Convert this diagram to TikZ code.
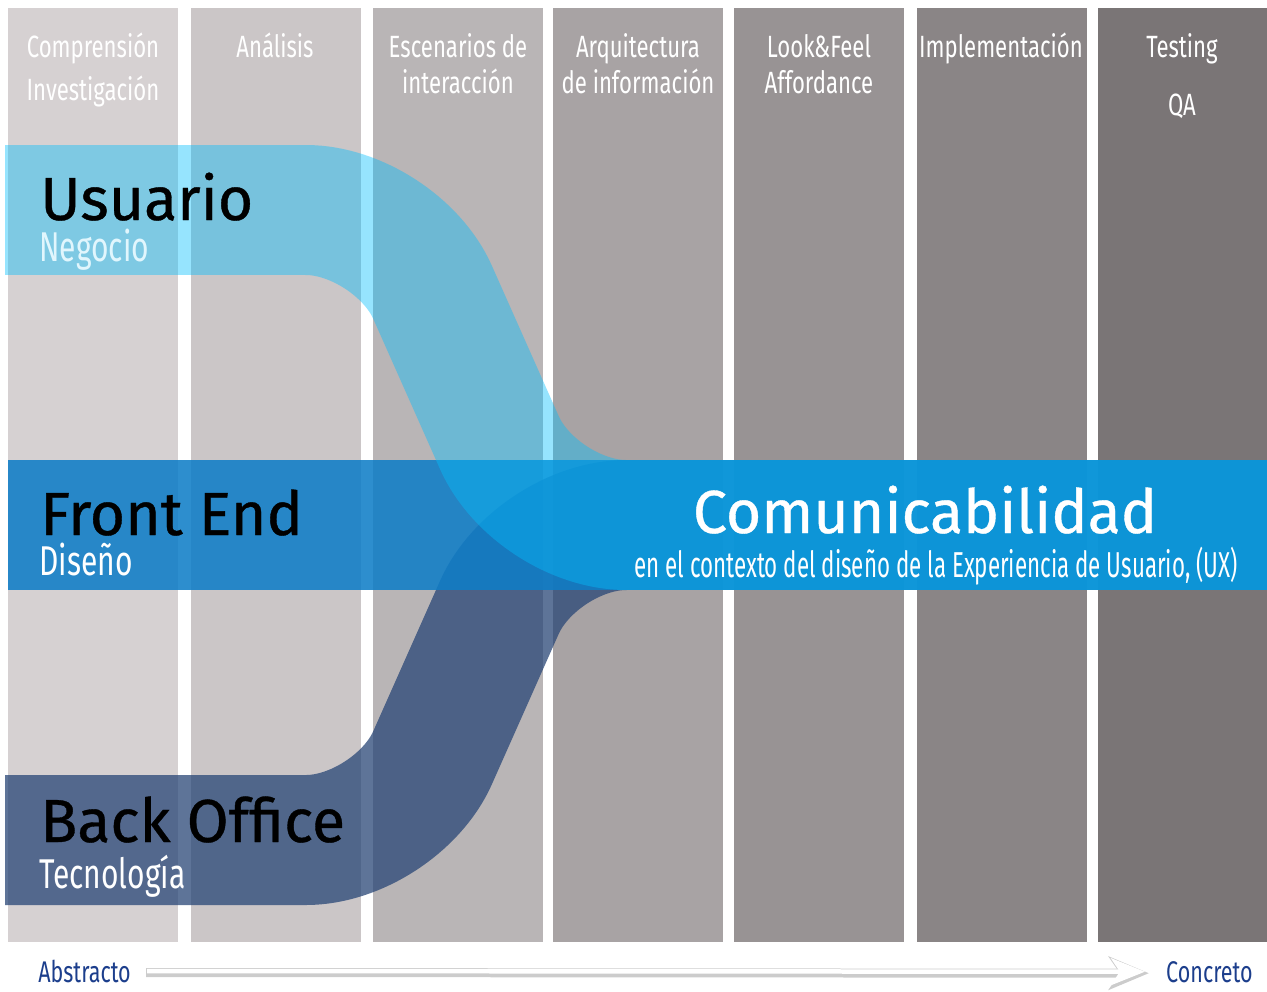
\documentclass[tikz,border=0pt]{standalone}
\usepackage{fontspec}
\setmainfont{Fira Sans}
\newfontfamily\condfont[FakeStretch=0.72]{Fira Sans}
\newfontfamily\narrowfont[FakeStretch=0.62]{Fira Sans}
\newfontfamily\titlefont[FakeBold=0.6]{Fira Sans}
\usetikzlibrary{arrows.meta}

\definecolor{colA}{RGB}{214,209,210}
\definecolor{colB}{RGB}{203,198,199}
\definecolor{colC}{RGB}{185,181,182}
\definecolor{colD}{RGB}{168,163,164}
\definecolor{colE}{RGB}{152,147,148}
\definecolor{colF}{RGB}{138,133,134}
\definecolor{colG}{RGB}{122,117,118}
\definecolor{usuariocol}{RGB}{5,190,252}
\definecolor{frontcol}{RGB}{14,125,199}
\definecolor{backcol}{RGB}{40,70,118}
\definecolor{ejecol}{RGB}{28,62,140}
\definecolor{negociocol}{RGB}{225,246,253}

\tikzset{
  fase/.style={anchor=base, inner sep=0pt, text=white, font=\condfont\fontsize{17.5}{20}\selectfont},
  titulo/.style={anchor=base west, inner sep=0pt, font=\titlefont\fontsize{34.6}{40}\selectfont},
  subtitulo/.style={anchor=base west, inner sep=0pt, text=white, font=\condfont\fontsize{23.7}{26}\selectfont},
  banda/.style={line width=2.6cm, rounded corners=1.8cm},
  eje/.style={anchor=base, inner sep=0pt, text=ejecol, font=\condfont\fontsize{17}{20}\selectfont},
}

\begin{document}
\begin{tikzpicture}[x=0.02cm, y=-0.02cm]
\useasboundingbox (0,0) rectangle (1267,991);

\foreach \x/\c in {8/colA, 191/colB, 373/colC, 553/colD, 734/colE, 917/colF, 1098/colG}
  \fill[\c] (\x,8) rectangle ++(170,934);

\foreach \x/\y/\t [count=\i] in {93/57/Comprensión, 93/100/Investigación, 275/57/Análisis,
    458/57/Escenarios de, 458/93/interacción, 638/57/Arquitectura, 638/93/de información,
    819/57/{Look\&Feel}, 819/93/Affordance, 1001/57/Implementación, 1182/57/Testing, 1182/115/QA}
  \node[fase] (fase\i) at (\x,\y) {\t};

\draw[banda, backcol, draw opacity=0.75] (5,840) -- (396,840) -- (536,525) -- (1267,525);
\fill[frontcol, fill opacity=0.87] (8,460) rectangle (1267,590);
\draw[banda, usuariocol, draw opacity=0.42] (5,210) -- (396,210) -- (536,525) -- (1267,525);

\node[titulo] (usuario) at (40,220) {Usuario};
\node[subtitulo, text=negociocol] (negocio) at (39,261) {Negocio};
\node[titulo] (front) at (40,535) {Front End};
\node[subtitulo] (diseno) at (39,575) {Diseño};
\node[titulo] (back) at (40,842) {Back Office};
\node[subtitulo] (tecno) at (39,888) {Tecnología};

\node[titulo, anchor=base, text=white] (comu) at (925,533) {Comunicabilidad};
\node[subtitulo, anchor=base, font=\narrowfont\fontsize{20.5}{24}\selectfont] (contexto) at (936,577)
  {en el contexto del diseño de la Experiencia de Usuario, (UX)};

\node[eje, anchor=base west] (abs) at (38,982) {Abstracto};
\node[eje, anchor=base east] (con) at (1253,982) {Concreto};
\draw[line width=0.18cm, black!20, shorten <=0.3cm, shorten >=0.34cm,
  -{Stealth[length=0.8cm, width=0.66cm, inset=0.22cm]}, transform canvas={yshift=-0.03cm}] (abs.east) -- (con.west);
\draw[line width=0.09cm, white, shorten <=0.32cm, shorten >=0.42cm,
  -{Stealth[length=0.68cm, width=0.54cm, inset=0.18cm]}] (abs.east) -- (con.west);
\end{tikzpicture}
\end{document}
